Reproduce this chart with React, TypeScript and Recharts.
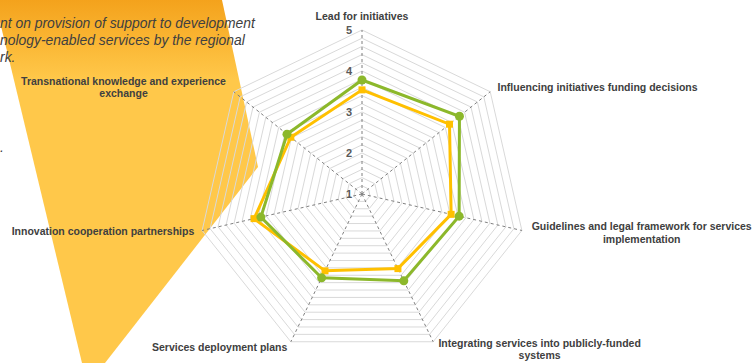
import { RadarChart, Radar, PolarGrid, PolarAngleAxis, PolarRadiusAxis } from 'recharts';

const AXES = [
  'Lead for initiatives',
  'Influencing initiatives funding decisions',
  'Guidelines and legal framework for services implementation',
  'Integrating services into publicly-funded systems',
  'Services deployment plans',
  'Innovation cooperation partnerships',
  'Transnational knowledge and experience exchange',
];
const GREEN_VALUES = [3.78, 4.04, 3.43, 3.35, 3.27, 3.53, 3.34];
const YELLOW_VALUES = [3.54, 3.73, 3.23, 3.02, 3.08, 3.7, 3.22];
const MAJOR_TICKS = [1, 2, 3, 4, 5];
const MINOR_STEP = 0.2;

const INTRO_LINES = ['nt on provision of support to development', 'nology-enabled services by the regional', 'rk.'];

const FONT = '"Liberation Sans", Arial, sans-serif';
const GREEN = '#8cb82b';
const YELLOW = '#ffc000';

// label layout per axis: wrapped lines, anchor, and offset from the tick point
const LABELS: Record<string, { lines: string[]; anchor: 'start' | 'middle' | 'end'; dx: number; dy: number }> = {
  [AXES[0]]: { lines: ['Lead for initiatives'], anchor: 'middle', dx: 0, dy: -2 },
  [AXES[1]]: { lines: ['Influencing initiatives funding decisions'], anchor: 'start', dx: 1, dy: 4 },
  [AXES[2]]: { lines: ['Guidelines and legal framework for services', 'implementation'], anchor: 'middle', dx: 112, dy: -2 },
  [AXES[3]]: { lines: ['Integrating services into publicly-funded', 'systems'], anchor: 'middle', dx: 103, dy: -2 },
  [AXES[4]]: { lines: ['Services deployment plans'], anchor: 'end', dx: 0, dy: 2 },
  [AXES[5]]: { lines: ['Innovation cooperation partnerships'], anchor: 'end', dx: 0, dy: 3 },
  [AXES[6]]: { lines: ['Transnational knowledge and experience', 'exchange'], anchor: 'middle', dx: -104, dy: -2 },
};

const data = AXES.map((axis, i) => ({ axis, green: GREEN_VALUES[i], yellow: YELLOW_VALUES[i] }));

const radiusTicks: number[] = [];
for (let v = MAJOR_TICKS[0]; v <= MAJOR_TICKS[MAJOR_TICKS.length - 1] + 1e-9; v += MINOR_STEP) {
  radiusTicks.push(Math.round(v * 10) / 10);
}

function AngleTick(props: any) {
  const { x, y, payload } = props;
  const cfg = LABELS[payload.value];
  if (!cfg) return null;
  return (
    <text
      x={x + cfg.dx}
      y={y + cfg.dy}
      textAnchor={cfg.anchor}
      fontFamily={FONT}
      fontSize={10.5}
      fontWeight="bold"
      fill="#404040"
    >
      {cfg.lines.map((line, i) => (
        <tspan key={i} x={x + cfg.dx} dy={i === 0 ? 0 : 12.5}>
          {line}
        </tspan>
      ))}
    </text>
  );
}

function RadiusTick(props: any) {
  const { x, y, payload } = props;
  if (!MAJOR_TICKS.includes(payload.value)) return null;
  return (
    <text x={x - 10} y={y + 4} textAnchor="end" fontFamily={FONT} fontSize={11} fontWeight="bold" fill="#595959">
      {payload.value}
    </text>
  );
}

function SquareDot(props: any) {
  const { cx, cy } = props;
  return <rect x={cx - 3.5} y={cy - 3.5} width={7} height={7} fill={YELLOW} />;
}

function CircleDot(props: any) {
  const { cx, cy } = props;
  return <circle cx={cx} cy={cy} r={4.5} fill={GREEN} />;
}

export default function App() {
  return (
    <div style={{ position: 'absolute', left: 0, top: 0, width: 753, height: 363, background: '#fff', overflow: 'hidden' }}>
      <svg width={753} height={363} style={{ position: 'absolute', left: 0, top: 0 }}>
        <defs>
          <linearGradient id="bgShape" x1="0" y1="0" x2="0" y2="1">
            <stop offset="0" stopColor="#f4a21c" />
            <stop offset="0.13" stopColor="#fbb937" />
            <stop offset="0.22" stopColor="#ffc84a" />
            <stop offset="1" stopColor="#ffc84a" />
          </linearGradient>
        </defs>
        <polygon points="0,0 222,0 258,167 105,363 82,363 0,22" fill="url(#bgShape)" />
        <g fontFamily={FONT} fontSize={13.9} fontStyle="italic" fill="#404040">
          {INTRO_LINES.map((line, i) => (
            <text key={i} x={0} y={28 + i * 17}>
              {line}
            </text>
          ))}
          <text x={0} y={152}>.</text>
        </g>
      </svg>
      <div style={{ position: 'absolute', left: 0, top: 0 }}>
        <RadarChart
          width={753}
          height={363}
          data={data}
          cx={362}
          cy={194}
          outerRadius={164}
          margin={{ top: 0, right: 0, bottom: 0, left: 0 }}
        >
          <PolarGrid radialLines={false} stroke="#d9d9d9" strokeWidth={1} />
          <PolarGrid polarRadius={[]} stroke="#7f7f7f" strokeDasharray="3 3" strokeWidth={1} />
          <PolarAngleAxis dataKey="axis" tick={<AngleTick />} tickLine={false} axisLine={false} />
          <PolarRadiusAxis
            angle={90}
            type="number"
            domain={[1, 5]}
            ticks={radiusTicks}
            tick={<RadiusTick />}
            axisLine={false}
            tickLine={false}
          />
          <Radar
            dataKey="yellow"
            stroke={YELLOW}
            strokeWidth={3}
            fill="none"
            fillOpacity={0}
            dot={<SquareDot />}
            isAnimationActive={false}
          />
          <Radar
            dataKey="green"
            stroke={GREEN}
            strokeWidth={3}
            fill="none"
            fillOpacity={0}
            dot={<CircleDot />}
            isAnimationActive={false}
          />
        </RadarChart>
      </div>
    </div>
  );
}
